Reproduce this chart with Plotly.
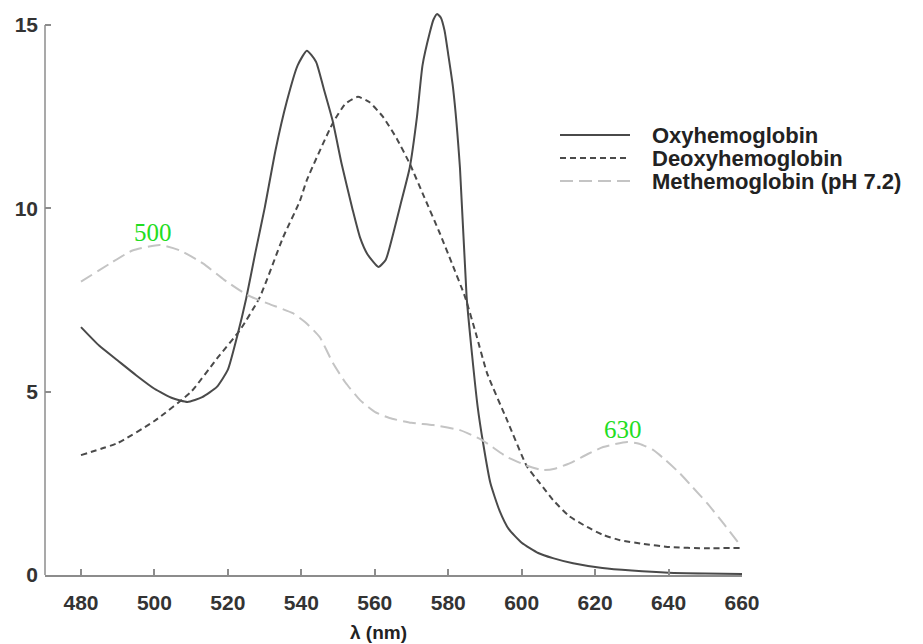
import plotly.graph_objects as go

# ---- data ----
oxy_nm = [480, 485, 490, 495, 500, 505, 509, 513, 517, 520, 522.5, 525, 527.5, 530, 533, 536, 539,
          541.5, 544, 546, 548.5, 551, 554, 556, 558, 561, 563, 565, 567, 569.5, 571.5, 573, 575,
          576, 577, 578, 579, 580, 581.3, 583.2, 585, 586.5, 588, 589.5, 591.5, 594, 596.5, 600,
          604.5, 608.5, 614, 622, 630, 640, 650, 660]
oxy_val = [6.76, 6.25, 5.85, 5.45, 5.08, 4.82, 4.72, 4.85, 5.13, 5.6, 6.5, 7.55, 8.8, 10.0, 11.6,
           12.9, 13.9, 14.3, 14.0, 13.3, 12.4, 11.2, 9.95, 9.2, 8.75, 8.4, 8.6, 9.3, 10.1, 11.1,
           12.5, 13.9, 14.8, 15.15, 15.3, 15.2, 14.85, 14.2, 13.3, 11.1, 7.6, 6.0, 4.6, 3.6, 2.5,
           1.75, 1.25, 0.88, 0.6, 0.46, 0.32, 0.19, 0.12, 0.06, 0.04, 0.03]

deoxy_nm = [480, 490, 500, 510, 517, 523.3, 528.7, 535, 539.6, 541.5, 548.6, 552, 555.4, 558.5,
            562.2, 566, 569.6, 573.5, 577.8, 581, 584.6, 587.5, 590.6, 596, 601.5, 605, 608.5,
            613, 617.8, 622, 626.8, 633, 640.4, 650, 660]
deoxy_val = [3.27, 3.6, 4.2, 5.0, 5.9, 6.68, 7.58, 9.2, 10.2, 10.77, 12.33, 12.85, 13.04, 12.9,
             12.5, 11.9, 11.2, 10.3, 9.3, 8.5, 7.58, 6.6, 5.5, 4.23, 2.95, 2.5, 2.05, 1.6, 1.31,
             1.1, 0.95, 0.85, 0.76, 0.73, 0.74]

met_nm = [480, 488, 494, 501.5, 507, 513.2, 519, 525.2, 531, 537.7, 541, 545, 548.6, 552, 556,
          560, 564, 570, 575.9, 583.2, 589.2, 596, 601.5, 605.8, 609, 613.2, 618, 622.2, 628.7,
          632, 635.8, 639, 643, 646.5, 650.5, 655, 659.5]
met_val = [8.0, 8.5, 8.85, 9.0, 8.85, 8.5, 8.05, 7.64, 7.4, 7.14, 6.9, 6.49, 5.78, 5.25, 4.77,
           4.45, 4.28, 4.15, 4.09, 3.95, 3.68, 3.22, 2.98, 2.86, 2.9, 3.05, 3.3, 3.49, 3.63, 3.58,
           3.41, 3.15, 2.78, 2.4, 1.96, 1.4, 0.82]

series_names = ["Oxyhemoglobin", "Deoxyhemoglobin", "Methemoglobin (pH 7.2)"]
peak_labels = ["500", "630"]
peak_nm = [499.5, 627.5]
peak_val = [9.0, 3.63]

x_ticks = [480, 500, 520, 540, 560, 580, 600, 620, 640, 660]
y_ticks = [0, 5, 10, 15]
y_axis_top = 15

# ---- styles ----
styles = [
    dict(color="#4a4a4a", width=2, dash="solid"),
    dict(color="#4a4a4a", width=2, dash="6px,4px"),
    dict(color="#c4c4c4", width=2, dash="13px,6px"),
]
axis_color = "#8c8c8c"
PLOT_H = 565  # plot-area height in px (0 at bottom, 15 at 550 px)

fig = go.Figure()
for nm, val, name, st in zip([oxy_nm, deoxy_nm, met_nm], [oxy_val, deoxy_val, met_val],
                             series_names, styles):
    fig.add_trace(go.Scatter(x=nm, y=val, mode="lines", name=name,
                             line=dict(shape="spline", smoothing=0.5, **st),
                             showlegend=False, hoverinfo="skip"))

# peak annotations
for lab, px, py in zip(peak_labels, peak_nm, peak_val):
    fig.add_annotation(x=px, y=py, text=lab, showarrow=False, yanchor="bottom", yshift=-3,
                       font=dict(family="Liberation Serif", size=25, color="#22dd22"))

# y axis line that stops at the top tick
fig.add_shape(type="line", xref="paper", yref="y", x0=0, x1=0, y0=0, y1=y_axis_top,
              line=dict(color=axis_color, width=1.5))

# custom legend (long line samples); positions relative to plot area
leg_y = [135, 158, 181]
for name, st, py in zip(series_names, styles, leg_y):
    yp = (575 - py) / PLOT_H
    fig.add_shape(type="line", xref="paper", yref="paper",
                  x0=(560 - 45) / 697, x1=(630 - 45) / 697, y0=yp, y1=yp,
                  line=dict(color=st["color"], width=2, dash=st["dash"]))
    fig.add_annotation(xref="paper", yref="paper", x=(650 - 45) / 697, y=yp, text=name,
                       showarrow=False, xanchor="left", yanchor="middle",
                       font=dict(family="Liberation Sans", size=22, color="#222", weight="bold"))

# x-axis title
fig.add_annotation(xref="x", yref="paper", x=561, y=-(632 - 575) / PLOT_H, text="λ (nm)",
                   showarrow=False, yanchor="middle",
                   font=dict(family="Liberation Sans", size=19, color="#222", weight="bold"))

axis_common = dict(showgrid=False, zeroline=False, linecolor=axis_color,
                   linewidth=1.5, ticks="inside", tickcolor=axis_color, tickwidth=1.5,
                   ticklen=6, automargin=False,
                   tickfont=dict(family="Liberation Sans", size=21, color="#333", weight="bold"))

# the page body adds an 8px offset, so margins are compensated
fig.update_layout(
    width=923, height=644,
    margin=dict(l=37, r=189, t=2, b=77),
    paper_bgcolor="white", plot_bgcolor="white",
    xaxis=dict(range=[470.2, 660], tickvals=x_ticks, ticklabelstandoff=8, showline=True,
               **axis_common),
    yaxis=dict(range=[0, 15 * PLOT_H / 550], tickvals=y_ticks, ticklabelstandoff=6,
               showline=False, **axis_common),
)

fig.write_html("out.html")
